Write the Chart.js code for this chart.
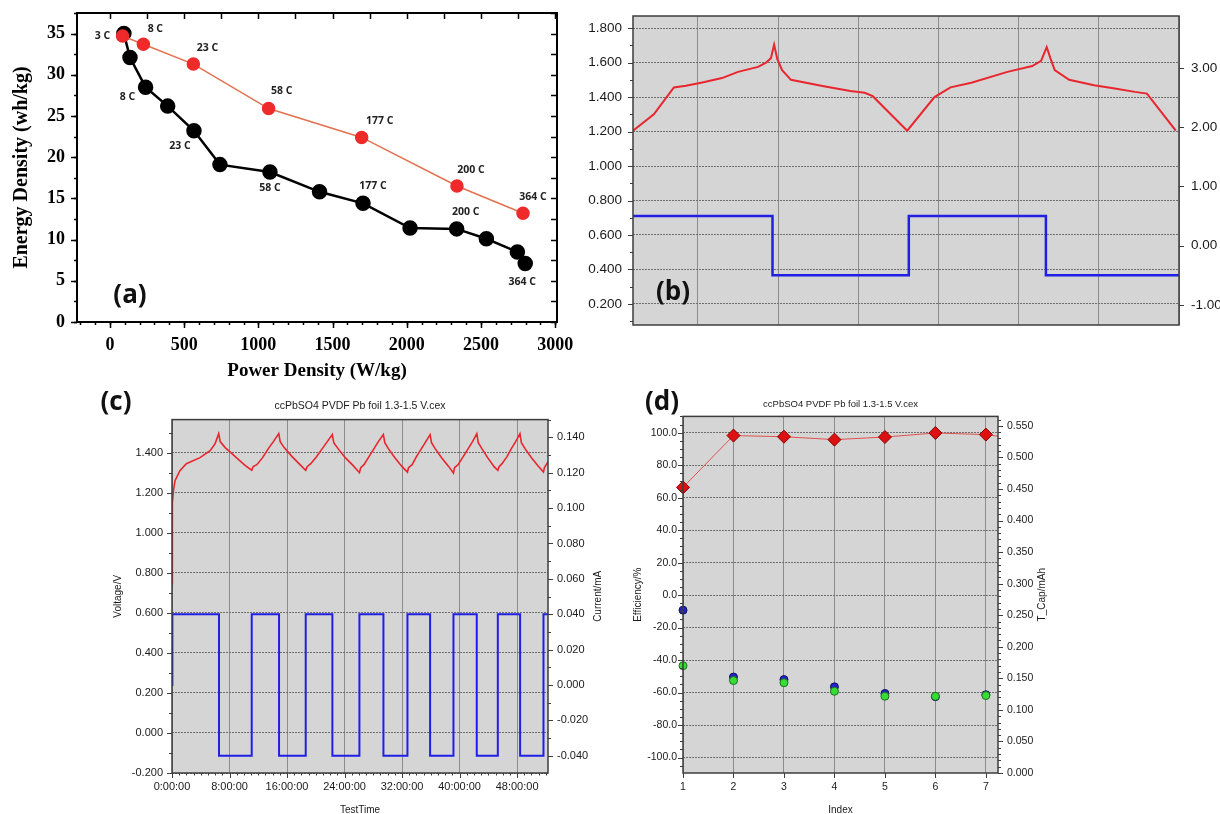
<!DOCTYPE html>
<html>
<head>
<meta charset="utf-8">
<script src="https://cdn.jsdelivr.net/npm/chart.js@4.4.1/dist/chart.umd.min.js"></script>
<style>
  body { margin: 0; background: #fff; width: 1220px; height: 814px; overflow: hidden; position: relative; }
  .panel { position: absolute; }
  .tag { position: absolute; font: bold 26px "Open Sans", sans-serif; color: #111; line-height: 30px; transform: translate(-50%, -50%); }
</style>
</head>
<body>
<div class="panel" style="left:0;top:0;width:580px;height:390px"><canvas id="chartA"></canvas></div>
<div class="panel" style="left:580px;top:0;width:640px;height:340px"><canvas id="chartB"></canvas></div>
<div class="panel" style="left:105px;top:380px;width:510px;height:445px"><canvas id="chartC"></canvas></div>
<div class="panel" style="left:628px;top:380px;width:425px;height:445px"><canvas id="chartD"></canvas></div>
<div class="tag" style="left:130px;top:293px">(a)</div>
<div class="tag" style="left:673px;top:290px">(b)</div>
<div class="tag" style="left:116px;top:400px">(c)</div>
<div class="tag" style="left:662px;top:400px">(d)</div>
<script>
// ---- (a) energy vs power density ----
const powerTicks = [0, 500, 1000, 1500, 2000, 2500, 3000];
const blackPower = [94, 135, 240, 389, 566, 741, 1078, 1412, 1705, 2022, 2336, 2536, 2745, 2798];
const blackEnergy = [35.0, 32.1, 28.5, 26.2, 23.2, 19.1, 18.2, 15.8, 14.4, 11.4, 11.3, 10.1, 8.5, 7.1];
const blackRates = ['', '', '8 C', '', '23 C', '', '58 C', '', '177 C', '', '200 C', '', '', '364 C'];
const redPower = [85, 225, 562, 1069, 1696, 2338, 2783];
const redEnergy = [34.7, 33.7, 31.3, 25.9, 22.4, 16.5, 13.2];
const redRates = ['3 C', '8 C', '23 C', '58 C', '177 C', '200 C', '364 C'];

// ---- (b) voltage / current vs time (grid units) ----
const bTime = [0.19, 0.45, 0.70, 0.85, 1.04, 1.30, 1.50, 1.75, 1.85, 1.91, 1.95, 1.99, 2.05, 2.16, 2.57, 2.90, 3.08, 3.18, 3.61,
  3.95, 4.15, 4.41, 4.86, 5.17, 5.28, 5.35, 5.40, 5.45, 5.63, 5.94, 6.20, 6.45, 6.60, 6.96];
const bVoltage = [1.204, 1.30, 1.456, 1.465, 1.483, 1.51, 1.546, 1.575, 1.60, 1.625, 1.704, 1.62, 1.556, 1.50, 1.463, 1.435, 1.425, 1.405, 1.205,
  1.40, 1.456, 1.483, 1.546, 1.58, 1.61, 1.69, 1.62, 1.556, 1.50, 1.468, 1.45, 1.43, 1.42, 1.205];
const bStepTime = [0.19, 1.93, 3.63, 5.34, 7.0];
const bCurrent = [0.5, -0.5, 0.5, -0.5, -0.5];

// ---- (c) voltage / current vs test time (h) ----
const cTime = [0, 0.05, 0.2, 0.42, 1.1, 2.0, 3.9, 5.3, 6.0, 6.5,
  6.7, 7.4, 8.8, 10.2, 11.09,
  11.3, 11.8, 12.6, 13.4, 14.1, 14.85,
  15.05, 15.6, 16.7, 17.8, 18.6,
  18.8, 19.3, 20.1, 20.9, 21.6, 22.3,
  22.5, 23.1, 24.1, 25.2, 26.07,
  26.25, 26.7, 27.4, 28.1, 28.7, 29.4,
  29.6, 30.1, 31.0, 32.0, 32.75,
  32.9, 33.4, 34.0, 34.7, 35.3, 35.9,
  36.1, 36.6, 37.5, 38.5, 39.15,
  39.3, 39.8, 40.5, 41.2, 41.8, 42.4,
  42.6, 43.1, 43.9, 44.8, 45.32,
  45.5, 45.9, 46.6, 47.2, 47.8, 48.4,
  48.6, 49.1, 50.0, 50.9, 51.67,
  51.8, 52.3];
const cVoltage = [0.745, 1.15, 1.21, 1.26, 1.31, 1.345, 1.375, 1.41, 1.445, 1.495,
  1.455, 1.425, 1.38, 1.335, 1.312,
  1.33, 1.34, 1.375, 1.42, 1.455, 1.495,
  1.455, 1.425, 1.38, 1.34, 1.312,
  1.33, 1.345, 1.38, 1.42, 1.455, 1.49,
  1.45, 1.42, 1.375, 1.335, 1.30,
  1.325, 1.34, 1.38, 1.42, 1.455, 1.49,
  1.45, 1.42, 1.375, 1.33, 1.303,
  1.325, 1.34, 1.38, 1.42, 1.455, 1.49,
  1.45, 1.42, 1.375, 1.33, 1.298,
  1.325, 1.34, 1.38, 1.42, 1.455, 1.495,
  1.45, 1.42, 1.375, 1.33, 1.312,
  1.33, 1.345, 1.38, 1.42, 1.455, 1.495,
  1.45, 1.42, 1.375, 1.335, 1.303,
  1.325, 1.353];
const cStepTime = [0, 0.05, 6.54, 11.09, 14.89, 18.6, 22.31, 26.07, 29.41, 32.75, 35.9, 39.15, 42.39, 45.32, 48.42, 51.67, 52.3];
const cCurrent = [0.000, 0.040, -0.040, 0.040, -0.040, 0.040, -0.040, 0.040, -0.040, 0.040, -0.040, 0.040, -0.040, 0.040, -0.040, 0.040, 0.040];

// ---- (d) efficiency and capacity per cycle ----
const effIndex = [1, 2, 3, 4, 5, 6, 7, 8];
const efficiency = [66.3, 98.2, 97.5, 95.7, 97.3, 99.8, 98.8, 94.5];
const capIndex = [1, 2, 3, 4, 5, 6, 7];
const chargeCap = [0.258, 0.152, 0.148, 0.1365, 0.126, 0.121, 0.124];
const dischargeCap = [0.170, 0.1465, 0.143, 0.1295, 0.1216, 0.1216, 0.1227];

Chart.defaults.font.family = '"Liberation Sans", Arial, sans-serif';
Chart.defaults.color = '#1a1a1a';
Chart.defaults.animation = false;
Chart.defaults.events = [];
Chart.defaults.responsive = true;
Chart.defaults.maintainAspectRatio = false;
Chart.defaults.plugins.legend.display = false;
Chart.defaults.plugins.tooltip.enabled = false;

function toPoints(xs, ys) {
    return xs.map((x, i) => ({ x: x, y: ys[i] }));
}
function noPadding(scale) {
    scale.paddingTop = 0;
    scale.paddingBottom = 0;
    scale.paddingLeft = 0;
    scale.paddingRight = 0;
}
function fixWidth(w) {
    return function (scale) { scale.width = w; noPadding(scale); };
}
function fixHeight(h) {
    return function (scale) { scale.height = h; noPadding(scale); };
}

// plot background, frame, tick marks and rotated right-hand titles
const framePlugin = {
    id: 'frame',
    beforeDraw(chart, args, opts) {
        if (!opts.bg) return;
        const a = chart.chartArea, ctx = chart.ctx;
        ctx.save();
        ctx.fillStyle = opts.bg;
        ctx.fillRect(a.left, a.top, a.right - a.left, a.bottom - a.top);
        ctx.restore();
    },
    afterDraw(chart, args, opts) {
        const a = chart.chartArea, ctx = chart.ctx;
        ctx.save();
        ctx.strokeStyle = opts.color;
        ctx.lineWidth = opts.tickWidth;
        (opts.marks || []).forEach(m => {
            const s = chart.scales[m.scale];
            const d = m.inward ? -m.len : m.len;
            for (let k = Math.ceil(s.min / m.step - 1e-6); k * m.step <= s.max + 1e-9; k++) {
                const p = Math.round(s.getPixelForValue(k * m.step)) + 0.5;
                ctx.beginPath();
                if (m.edge === 'left') { ctx.moveTo(a.left, p); ctx.lineTo(a.left - d, p); }
                else if (m.edge === 'right') { ctx.moveTo(a.right, p); ctx.lineTo(a.right + d, p); }
                else if (m.edge === 'bottom') { ctx.moveTo(p, a.bottom); ctx.lineTo(p, a.bottom + d); }
                else { ctx.moveTo(p, a.top); ctx.lineTo(p, a.top - d); }
                ctx.stroke();
            }
        });
        ctx.lineWidth = opts.borderWidth;
        ctx.strokeRect(a.left, a.top, a.right - a.left, a.bottom - a.top);
        if (opts.sideTitle) {
            ctx.translate(opts.sideTitle.x, (a.top + a.bottom) / 2);
            ctx.rotate(-Math.PI / 2);
            ctx.font = opts.sideTitle.font;
            ctx.fillStyle = '#1a1a1a';
            ctx.textAlign = 'center';
            ctx.textBaseline = 'middle';
            ctx.fillText(opts.sideTitle.text, 0, 0);
        }
        ctx.restore();
    }
};

// C-rate annotations next to the points of panel (a)
const rateLabelPlugin = {
    id: 'rateLabels',
    afterDatasetsDraw(chart, args, opts) {
        const ctx = chart.ctx;
        ctx.save();
        ctx.font = opts.font;
        ctx.fillStyle = opts.color;
        ctx.textAlign = 'center';
        ctx.textBaseline = 'middle';
        opts.sets.forEach(set => {
            const meta = chart.getDatasetMeta(set.dataset);
            set.labels.forEach((txt, i) => {
                if (!txt) return;
                const el = meta.data[i];
                ctx.fillText(txt, el.x + set.offsets[i][0], el.y + set.offsets[i][1]);
            });
        });
        ctx.restore();
    }
};

const redRateOffsets = [[-20, 0], [12, -15], [14, -16], [13, -18], [18, -16], [14, -16], [10, -16]];
const blackRateOffsets = [[0, 0], [0, 0], [-18, 10], [0, 0], [-14, 15], [0, 0], [0, 16], [0, 0], [10, -17], [0, 0], [9, -17], [0, 0], [0, 0], [-3, 19]];

const serifBold = (size) => ({ family: '"Liberation Serif", "Times New Roman", serif', size: size, weight: 'bold' });

new Chart(document.getElementById('chartA'), {
    type: 'scatter',
    data: {
        datasets: [{
            data: toPoints(redPower, redEnergy),
            showLine: true,
            borderColor: '#e2714f',
            borderWidth: 1.5,
            pointRadius: 6,
            pointBackgroundColor: '#ee2a2a',
            pointBorderColor: '#ee2a2a'
        }, {
            data: toPoints(blackPower, blackEnergy),
            showLine: true,
            borderColor: '#000',
            borderWidth: 2.5,
            pointRadius: 6.5,
            pointBackgroundColor: '#000',
            pointBorderColor: '#000'
        }]
    },
    options: {
        layout: { padding: { top: 13, right: 23, left: 0, bottom: 0 } },
        scales: {
            x: {
                min: -222, max: 3012,
                afterFit: fixHeight(68),
                afterBuildTicks: scale => { scale.ticks = powerTicks.map(v => ({ value: v })); },
                ticks: { maxRotation: 0, autoSkip: false, padding: 13, font: serifBold(18), color: '#000', callback: v => String(v) },
                grid: { display: true, drawOnChartArea: false, drawTicks: false },
                border: { display: false },
                title: { display: true, text: 'Power Density (W/kg)', font: serifBold(19), color: '#000', padding: { top: 0, bottom: 8 } }
            },
            y: {
                min: 0, max: 37.5,
                afterFit: fixWidth(77),
                ticks: { stepSize: 5, includeBounds: false, maxTicksLimit: 20, padding: 12, font: serifBold(18), color: '#000' },
                grid: { display: true, drawOnChartArea: false, drawTicks: false },
                border: { display: false },
                title: { display: true, text: 'Energy Density (wh/kg)', font: serifBold(20), color: '#000', padding: { top: 10, bottom: 0 } }
            }
        },
        plugins: {
            frame: {
                color: '#000', tickWidth: 1.5, borderWidth: 2,
                marks: [
                    { scale: 'x', edge: 'bottom', step: 500, len: 6 },
                    { scale: 'x', edge: 'bottom', step: 100, len: 3 },
                    { scale: 'x', edge: 'top', step: 250, len: 6, inward: true },
                    { scale: 'y', edge: 'left', step: 5, len: 6 },
                    { scale: 'y', edge: 'left', step: 2.5, len: 3 },
                    { scale: 'y', edge: 'right', step: 2.5, len: 6, inward: true }
                ]
            },
            rateLabels: {
                font: 'bold 10.5px "Open Sans", sans-serif',
                color: '#222',
                sets: [
                    { dataset: 0, labels: redRates, offsets: redRateOffsets },
                    { dataset: 1, labels: blackRates, offsets: blackRateOffsets }
                ]
            }
        }
    },
    plugins: [framePlugin, rateLabelPlugin]
});

const plotGray = '#d5d5d5';
const hGridColor = '#6e6e6e';
const vGridColor = '#8c8c8c';
const traceRed = '#e8262e';
const traceBlue = '#1f1fe6';

new Chart(document.getElementById('chartB'), {
    type: 'scatter',
    data: {
        datasets: [{
            data: toPoints(bTime, bVoltage),
            showLine: true, yAxisID: 'y',
            borderColor: traceRed, borderWidth: 2, pointRadius: 0
        }, {
            data: toPoints(bStepTime, bCurrent),
            showLine: true, stepped: true, yAxisID: 'y1',
            borderColor: traceBlue, borderWidth: 2.5, pointRadius: 0
        }]
    },
    options: {
        layout: { padding: { top: 16, right: 0, left: 0, bottom: 0 } },
        scales: {
            x: {
                min: 0.19, max: 7.0,
                afterFit: fixHeight(15),
                ticks: { display: false, stepSize: 1, includeBounds: false },
                grid: { color: vGridColor, lineWidth: 1, drawTicks: false },
                border: { display: false }
            },
            y: {
                position: 'left', min: 0.078, max: 1.87,
                afterFit: fixWidth(53),
                ticks: { stepSize: 0.2, includeBounds: false, maxTicksLimit: 20, padding: 11, font: { size: 13.5 }, callback: v => v.toFixed(3) },
                grid: { color: hGridColor, lineWidth: 1, drawTicks: false },
                border: { display: false, dash: [2, 1] }
            },
            y1: {
                position: 'right', min: -1.34, max: 3.88,
                afterFit: fixWidth(41),
                ticks: { stepSize: 1, includeBounds: false, maxTicksLimit: 20, padding: 12, font: { size: 13.5 }, callback: v => v.toFixed(2) },
                grid: { drawOnChartArea: false, drawTicks: false },
                border: { display: false }
            }
        },
        plugins: {
            frame: {
                bg: plotGray, color: '#3c3c3c', tickWidth: 1, borderWidth: 1.5,
                marks: [
                    { scale: 'y', edge: 'left', step: 0.2, len: 5 },
                    { scale: 'y', edge: 'left', step: 0.1, len: 3 },
                    { scale: 'y1', edge: 'right', step: 1, len: 5 }
                ]
            }
        }
    },
    plugins: [framePlugin]
});

const cellTitle = 'ccPbSO4 PVDF Pb foil 1.3-1.5 V.cex';

new Chart(document.getElementById('chartC'), {
    type: 'scatter',
    data: {
        datasets: [{
            data: toPoints(cTime, cVoltage),
            showLine: true, yAxisID: 'y',
            borderColor: traceRed, borderWidth: 1.6, pointRadius: 0
        }, {
            data: toPoints(cStepTime, cCurrent),
            showLine: true, stepped: true, yAxisID: 'y1',
            borderColor: traceBlue, borderWidth: 2, pointRadius: 0
        }]
    },
    options: {
        layout: { padding: 0 },
        scales: {
            x: {
                min: 0, max: 52.3,
                afterFit: fixHeight(52),
                ticks: { stepSize: 8, includeBounds: false, maxTicksLimit: 20, maxRotation: 0, padding: 7, font: { size: 11 }, callback: v => v + ':00:00' },
                grid: { color: vGridColor, lineWidth: 1, drawTicks: false },
                border: { display: false },
                title: { display: true, text: 'TestTime', font: { size: 10 }, padding: { top: 0, bottom: 9 } }
            },
            y: {
                position: 'left', min: -0.2, max: 1.565,
                afterFit: fixWidth(67),
                ticks: { stepSize: 0.2, includeBounds: false, maxTicksLimit: 20, padding: 9, font: { size: 11 }, callback: v => v.toFixed(3) },
                grid: { color: hGridColor, lineWidth: 1, drawTicks: false },
                border: { display: false, dash: [2, 1] },
                title: { display: true, text: 'Voltage/V', font: { size: 10 }, padding: { top: 7, bottom: 0 } }
            },
            y1: {
                position: 'right', min: -0.0497, max: 0.150,
                afterFit: fixWidth(67),
                ticks: { stepSize: 0.02, includeBounds: false, maxTicksLimit: 20, padding: 9, font: { size: 11 }, callback: v => v.toFixed(3) },
                grid: { drawOnChartArea: false, drawTicks: false },
                border: { display: false }
            }
        },
        plugins: {
            title: { display: true, text: cellTitle, font: { size: 10.5, weight: 'normal' }, color: '#1a1a1a', padding: { top: 20, bottom: 7 } },
            frame: {
                bg: plotGray, color: '#3c3c3c', tickWidth: 1, borderWidth: 1.5,
                sideTitle: { text: 'Current/mA', x: 493, font: '10px "Liberation Sans", Arial, sans-serif' },
                marks: [
                    { scale: 'y', edge: 'left', step: 0.2, len: 5 },
                    { scale: 'y', edge: 'left', step: 0.1, len: 3 },
                    { scale: 'y1', edge: 'right', step: 0.02, len: 5 },
                    { scale: 'y1', edge: 'right', step: 0.01, len: 3 },
                    { scale: 'x', edge: 'bottom', step: 8, len: 5 },
                    { scale: 'x', edge: 'bottom', step: 1, len: 2.5 }
                ]
            }
        }
    },
    plugins: [framePlugin]
});

const edgeClip = { left: 10, top: 10, right: 0, bottom: 10 };

new Chart(document.getElementById('chartD'), {
    type: 'scatter',
    data: {
        datasets: [{
            data: toPoints(effIndex, efficiency),
            showLine: true, yAxisID: 'y', clip: edgeClip,
            borderColor: '#e05050', borderWidth: 1,
            pointStyle: 'rectRot', pointRadius: 6.5,
            pointBackgroundColor: '#dd1111', pointBorderColor: '#8b0000', pointBorderWidth: 1
        }, {
            data: toPoints(capIndex, dischargeCap),
            showLine: false, yAxisID: 'y1', clip: edgeClip,
            pointRadius: 4, pointBackgroundColor: '#35dd35', pointBorderColor: '#1f6f1f', pointBorderWidth: 1
        }, {
            data: toPoints(capIndex, chargeCap),
            showLine: false, yAxisID: 'y1', clip: edgeClip,
            pointRadius: 4, pointBackgroundColor: '#2323c8', pointBorderColor: '#101060', pointBorderWidth: 1
        }]
    },
    options: {
        layout: { padding: 0 },
        scales: {
            x: {
                min: 1, max: 7.24,
                afterFit: fixHeight(52),
                ticks: { stepSize: 1, includeBounds: false, maxTicksLimit: 20, maxRotation: 0, padding: 8, font: { size: 10.5 } },
                grid: { color: vGridColor, lineWidth: 1, drawTicks: false },
                border: { display: false },
                title: { display: true, text: 'Index', font: { size: 10 }, padding: { top: 0, bottom: 9 } }
            },
            y: {
                position: 'left', min: -109.5, max: 110,
                afterFit: fixWidth(55),
                ticks: { stepSize: 20, includeBounds: false, maxTicksLimit: 20, padding: 6, font: { size: 10.5 }, callback: v => v.toFixed(1) },
                grid: { color: hGridColor, lineWidth: 1, drawTicks: false },
                border: { display: false, dash: [2, 1] },
                title: { display: true, text: 'Efficiency/%', font: { size: 10 }, padding: { top: 4, bottom: 0 } }
            },
            y1: {
                position: 'right', min: 0, max: 0.565,
                afterFit: fixWidth(55),
                ticks: { stepSize: 0.05, includeBounds: false, maxTicksLimit: 20, padding: 9, font: { size: 10.5 }, callback: v => v.toFixed(3) },
                grid: { drawOnChartArea: false, drawTicks: false },
                border: { display: false }
            }
        },
        plugins: {
            title: { display: true, text: cellTitle, font: { size: 9.5, weight: 'normal' }, color: '#1a1a1a', padding: { top: 19, bottom: 6 } },
            frame: {
                bg: plotGray, color: '#3c3c3c', tickWidth: 1, borderWidth: 1.5,
                sideTitle: { text: 'T_Cap/mAh', x: 414, font: '10px "Liberation Sans", Arial, sans-serif' },
                marks: [
                    { scale: 'y', edge: 'left', step: 20, len: 5 },
                    { scale: 'y', edge: 'left', step: 5, len: 3 },
                    { scale: 'y1', edge: 'right', step: 0.05, len: 5 },
                    { scale: 'y1', edge: 'right', step: 0.01, len: 3 },
                    { scale: 'x', edge: 'bottom', step: 1, len: 5 }
                ]
            }
        }
    },
    plugins: [framePlugin]
});
</script>
</body>
</html>
